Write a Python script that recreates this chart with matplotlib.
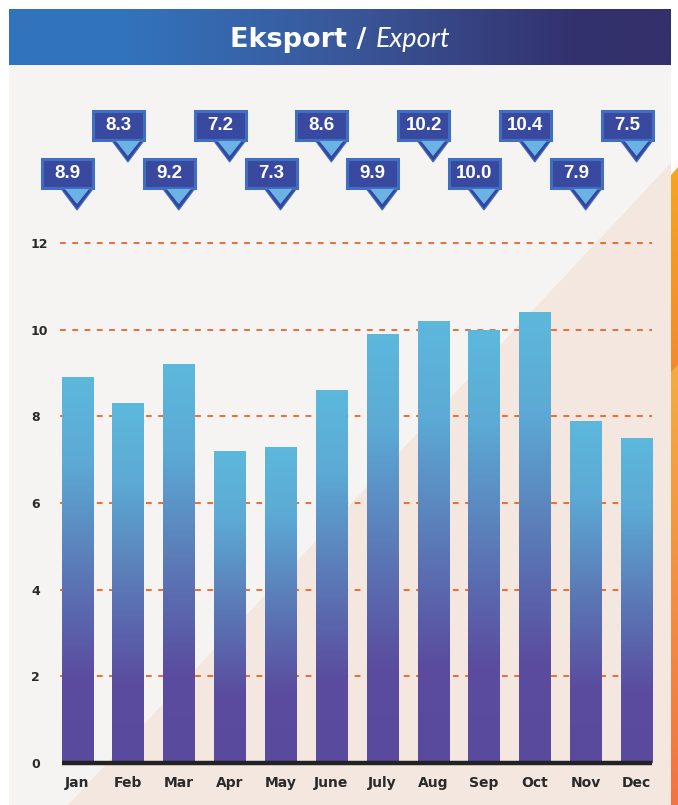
import numpy as np
import matplotlib
matplotlib.use("Agg")
import matplotlib.pyplot as plt
from matplotlib.colors import LinearSegmentedColormap
from matplotlib.patches import Rectangle, Polygon
import matplotlib.transforms as mtransforms

# ---------------- data ----------------
months = ["Jan", "Feb", "Mar", "Apr", "May", "June", "July", "Aug", "Sep", "Oct", "Nov", "Dec"]
values = [8.9, 8.3, 9.2, 7.2, 7.3, 8.6, 9.9, 10.2, 10.0, 10.4, 7.9, 7.5]
labels = ["8.9", "8.3", "9.2", "7.2", "7.3", "8.6", "9.9", "10.2", "10.0", "10.4", "7.9", "7.5"]
yticks = [0, 2, 4, 6, 8, 10, 12]

W, H = 678, 805
fig = plt.figure(figsize=(W / 100, H / 100), dpi=100)
fig.patch.set_facecolor("white")

# ---------------- background (pixel coordinates) ----------------
bg = fig.add_axes([0, 0, 1, 1])
bg.set_xlim(0, W)
bg.set_ylim(H, 0)
bg.axis("off")

# panel
bg.add_patch(Rectangle((9, 65), 662, H - 65, facecolor="#F5F4F3", edgecolor="none", zorder=0))
# beige diagonal
bg.add_patch(Polygon([(68, H), (671, 163), (671, H)], closed=True,
                     facecolor="#F3E7DF", edgecolor="none", zorder=0.5))
# orange strip (two gradient segments)
strip_cmap1 = LinearSegmentedColormap.from_list("s1", ["#F9A61B", "#F58A2A"])
strip_cmap2 = LinearSegmentedColormap.from_list("s2", ["#F7AC3E", "#F4733E"])
g = np.linspace(0, 1, 256).reshape(-1, 1)
im1 = bg.imshow(g, cmap=strip_cmap1, extent=[671, 678, 372, 160], aspect="auto", zorder=0.6)
clip1 = Polygon([(671, 175), (678, 167), (678, 372), (671, 372)], closed=True,
                transform=bg.transData, facecolor="none", edgecolor="none")
bg.add_patch(clip1)
im1.set_clip_path(clip1)
im2 = bg.imshow(g, cmap=strip_cmap2, extent=[671, 678, H, 365], aspect="auto", zorder=0.6)
clip2 = Polygon([(671, 372), (678, 365), (678, H), (671, H)], closed=True,
                transform=bg.transData, facecolor="none", edgecolor="none")
bg.add_patch(clip2)
im2.set_clip_path(clip2)

# header gradient
hdr_cmap = LinearSegmentedColormap.from_list(
    "hdr", [(0, "#3174BE"), (0.18, "#3273BC"), (0.5, "#3A589B"), (0.85, "#33326E"), (1, "#33306B")])
gh = np.linspace(0, 1, 512).reshape(1, -1)
bg.imshow(gh, cmap=hdr_cmap, extent=[9, 671, 65, 9], aspect="auto", zorder=1)
bg.set_xlim(0, W)
bg.set_ylim(H, 0)

bg.text(366, 47, "Eksport /", ha="right", va="baseline", color="white",
        fontsize=19.5, fontweight="bold", family="DejaVu Sans", zorder=2)
bg.text(376, 47, "Export", ha="left", va="baseline", color="white",
        fontsize=19.5, fontstyle="italic", fontweight="normal", family=["Lato", "DejaVu Sans"], zorder=2)

# ---------------- main axes ----------------
x_left_px, x_right_px = 51.6, 662.0
y0_px, y12_px = 763.0, 243.0
ax = fig.add_axes([x_left_px / W, (H - y0_px) / H,
                   (x_right_px - x_left_px) / W, (y0_px - y12_px) / H])
ax.set_facecolor("none")
x = np.arange(len(months))
bw = 0.61

# gridlines
ax.hlines(yticks[1:], -0.33, len(months) - 1 + 0.31, colors="#E8632B",
          linestyles=(0, (3.2, 3.6)), linewidth=1.3, zorder=1, clip_on=False)

bar_cmap = LinearSegmentedColormap.from_list(
    "bar", [(0, "#5A4A9D"), (0.22, "#5A4C9F"), (0.5, "#5B7AB7"), (0.78, "#5CAAD5"), (1, "#5DB8DC")])
bars = ax.bar(x, values, width=bw, color="none", edgecolor="none", zorder=3)
for rect, v in zip(bars, values):
    x0 = rect.get_x()
    im = ax.imshow(g[::-1], cmap=bar_cmap, extent=[x0, x0 + bw, 0, v],
                   aspect="auto", zorder=3, origin="upper")
    im.set_clip_path(rect)

# baseline
ax.hlines(0, -bw / 2, len(months) - 1 + bw / 2, colors="#222222", linewidth=3.2,
          zorder=4, clip_on=False)

ax.set_xlim(-0.5, len(months) - 0.5)
ax.set_ylim(0, 12)
for s in ax.spines.values():
    s.set_visible(False)
ax.set_xticks(x)
ax.set_xticklabels(months, fontsize=10, fontweight="bold", color="#2A2A2A", family="DejaVu Sans")
ax.set_yticks(yticks)
ax.set_yticklabels([str(t) for t in yticks], fontsize=9, fontweight="bold", color="#2A2A2A",
                   family="DejaVu Sans")
for lab in ax.get_yticklabels():
    lab.set_horizontalalignment("left")
ax.tick_params(axis="y", length=0, pad=14.8)
ax.tick_params(axis="x", length=0, pad=9)

# ---------------- callouts ----------------
tip_rows_px = [210, 162]  # tip y (pixel, from top) for lower / upper rows
for i, (v, lab) in enumerate(zip(values, labels)):
    tx = ax.transData.transform((i, 0))[0]
    ty = H - tip_rows_px[i % 2]
    tr = mtransforms.Affine2D().translate(tx, ty)
    box = Rectangle((-35, 22), 51, 29, facecolor="#3949A0", edgecolor="#3F6FBE",
                    linewidth=2.2, transform=tr, zorder=5)
    outer = Polygon([(-16.5, 22), (16.5, 22), (0, 0)], closed=True, facecolor="#3446A0",
                    edgecolor="#3F6FBE", linewidth=0.8, transform=tr, zorder=5)
    inner = Polygon([(-12, 21), (12, 21), (0, 6)], closed=True, facecolor="#6CB3E5",
                    edgecolor="none", transform=tr, zorder=6)
    fig.add_artist(outer)
    fig.add_artist(box)
    fig.add_artist(inner)
    fig.text(0, 0, lab, transform=tr + mtransforms.Affine2D().translate(-9.5, 36.5),
             ha="center", va="center", color="white", fontsize=13.5, fontweight="bold",
             family="Liberation Sans", zorder=7)

fig.savefig("out.png", dpi=100)
